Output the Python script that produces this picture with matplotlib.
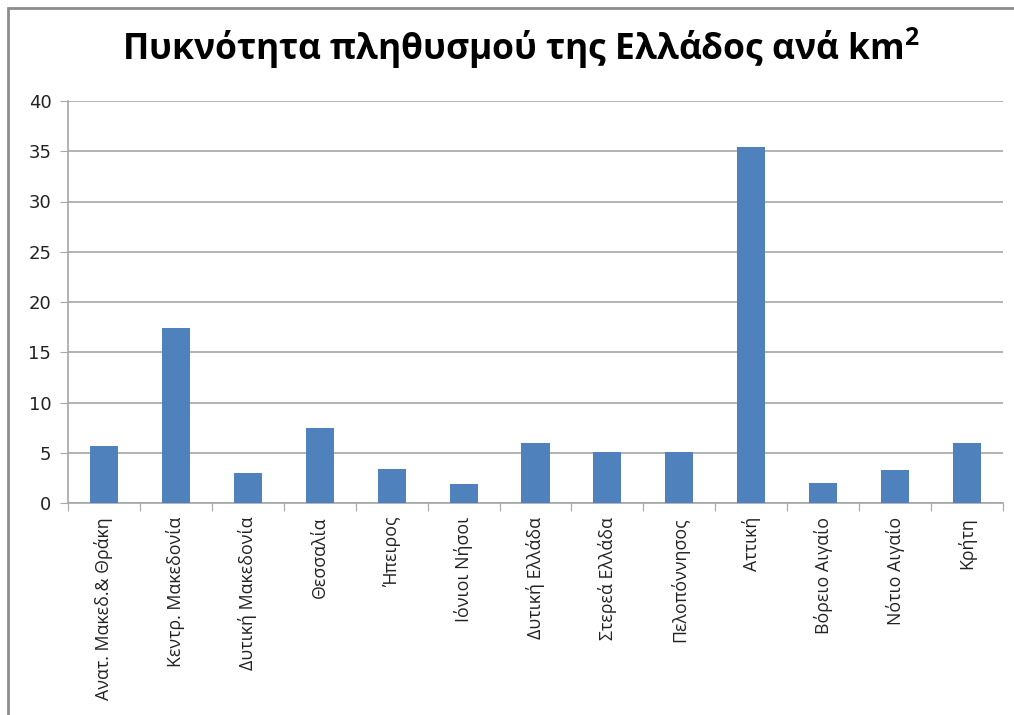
import matplotlib
matplotlib.use('Agg')
import matplotlib.pyplot as plt
from matplotlib.patches import Rectangle

regions = ['Ανατ. Μακεδ.& Θράκη', 'Κεντρ. Μακεδονία', 'Δυτική Μακεδονία', 'Θεσσαλία',
           'Ήπειρος', 'Ιόνιοι Νήσοι', 'Δυτική Ελλάδα', 'Στερεά Ελλάδα', 'Πελοπόννησος',
           'Αττική', 'Βόρειο Αιγαίο', 'Νότιο Αιγαίο', 'Κρήτη']
density = [5.7, 17.4, 3.0, 7.5, 3.4, 1.9, 6.0, 5.1, 5.1, 35.4, 2.0, 3.3, 6.0]
y_ticks = [0, 5, 10, 15, 20, 25, 30, 35, 40]

plt.rcParams['font.family'] = ['Open Sans', 'DejaVu Sans']
plt.rcParams['mathtext.fontset'] = 'custom'
plt.rcParams['mathtext.bf'] = 'Open Sans:bold'

fig = plt.figure(figsize=(10.14, 7.15), dpi=100)
ax = fig.add_axes([68 / 1014, 1 - 503 / 715, (1003 - 68) / 1014, (503 - 101) / 715])

x = range(len(regions))
ax.bar(x, density, width=0.39, color='#4F81BD', zorder=3)

ax.set_xlim(-0.5, len(regions) - 0.5)
ax.set_ylim(0, 40)
ax.set_yticks(y_ticks)
ax.set_yticklabels([str(v) for v in y_ticks], fontsize=13, family='DejaVu Sans', color='#222222')
ax.grid(axis='y', color='#A6A6A6', linewidth=1.2, zorder=0)

# category labels between boundary ticks
ax.set_xticks([i - 0.5 for i in range(len(regions) + 1)])
ax.set_xticklabels([])
ax.set_xticks(list(x), minor=True)
ax.set_xticklabels(regions, minor=True, rotation=90, fontsize=12.8, va='top', color='#222222')
ax.tick_params(axis='x', which='minor', length=0, pad=10)
ax.tick_params(axis='x', which='major', length=6, color='#A6A6A6')
ax.tick_params(axis='y', length=6, color='#A6A6A6', pad=6)

for side in ['top', 'right']:
    ax.spines[side].set_visible(False)
for side in ['left', 'bottom']:
    ax.spines[side].set_color('#A6A6A6')
    ax.spines[side].set_linewidth(1.2)

fig.text(0.514, 1 - 48 / 715, r'Πυκνότητα πληθυσμού της Ελλάδος ανά km$^{\mathbf{2}}$',
         ha='center', va='center', fontsize=25.5, fontweight='bold')

# outer chart border (cut off on the right and bottom)
fig.patches.append(Rectangle((8 / 1014, -0.1), 1.2, 1.1 - 8 / 715, transform=fig.transFigure,
                             fill=False, edgecolor='#8C8C8C', linewidth=2))

fig.savefig('out.png', dpi=100)
